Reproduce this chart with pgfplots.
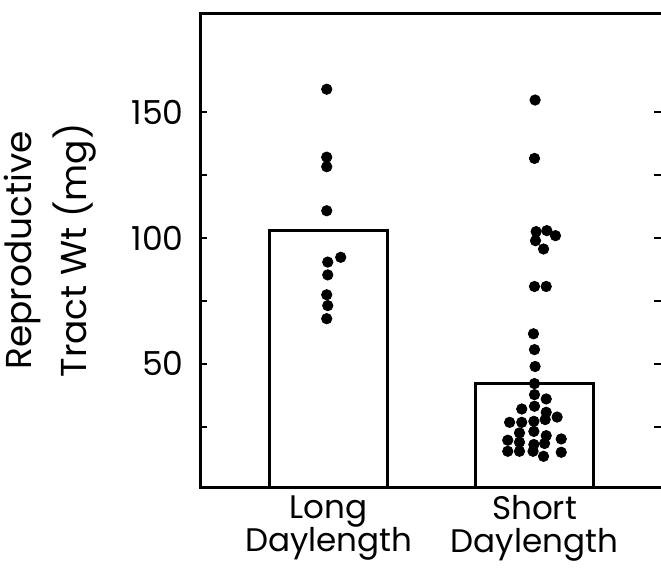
\documentclass[border=0pt]{standalone}
\usepackage{fontspec}
\setmainfont{Poppins}
\usepackage{pgfplots}
\pgfplotsset{compat=1.18}
\begin{document}
\begin{tikzpicture}
\begin{axis}[
  scale only axis,
  width=230.5pt, height=236.5pt,
  xmin=-0.626, xmax=1.615,
  ymin=1, ymax=189,
  axis line style={draw=none},
  xtick={0,1},
  xticklabels={Long\\Daylength, Short\\Daylength},
  x tick style={draw=none},
  xticklabel style={align=center, anchor=north, inner sep=0pt, yshift=-4pt, font=\fontsize{16.3}{16.5}\selectfont},
  ytick={25,50,75,100,125,150},
  yticklabels={{},50,{},100,{},150},
  yticklabel style={anchor=east, inner sep=0pt, xshift=-8pt, font=\fontsize{16.5}{17}\selectfont},
  /pgf/number format/assume math mode=true,
  y tick style={line width=1pt, black},
  major tick length=3.5pt,
  tick pos=both,
  ylabel={Reproductive\\Tract Wt (mg)},
  ylabel style={at={([xshift=-51.5pt]axis description cs:0,0.5)}, anchor=south, align=center, inner sep=0pt, font=\fontsize{18}{27.5}\selectfont},
  clip=false,
]
\addplot[ybar, bar width=0.573, fill=white, draw=black, line width=1.5pt] coordinates {(0,103) (1,42.1)};
\addplot[only marks, mark=*, mark size=2.6pt, black] coordinates {
(-0.01,159.1) (-0.01,132.1) (-0.01,128.3) (-0.01,110.8) (0.058,92.3)
(-0.005,90.4) (-0.005,85.3) (-0.01,77.4) (-0.005,73.1) (-0.01,67.9)
};
\addplot[only marks, mark=*, mark size=2.6pt, black] coordinates {
(1.003,154.8) (1.0,131.6) (1.008,102.5) (1.06,102.9) (1.102,100.9)
(1.005,98.9) (1.044,95.6) (1.0,80.7) (1.057,80.7) (0.995,61.9)
(1.0,55.6) (1.003,48.9) (1.0,42.1) (1.0,37.7) (1.057,36.0)
(0.938,32.0) (1.0,33.1) (1.057,30.7) (1.11,28.8) (0.879,26.7)
(0.938,26.7) (0.997,27.1) (1.052,27.8) (0.927,22.5) (0.997,23.1)
(1.057,21.4) (0.870,19.6) (0.927,18.8) (0.997,17.9) (1.049,18.3)
(1.13,20.1) (0.870,15.2) (0.927,15.2) (0.993,15.2) (1.044,13.2)
(1.13,14.8)
};
\draw[line width=1.5pt] (rel axis cs:1,1) -- (rel axis cs:0,1) -- (rel axis cs:0,0) -- (rel axis cs:1,0);
\coordinate (sw) at (rel axis cs:0,0);
\coordinate (ne) at (rel axis cs:1,1);
\end{axis}
\pgfresetboundingbox
\path ([shift={(-100pt,-40pt)}]sw) rectangle ([shift={(0pt,7pt)}]ne);
\end{tikzpicture}
\end{document}
